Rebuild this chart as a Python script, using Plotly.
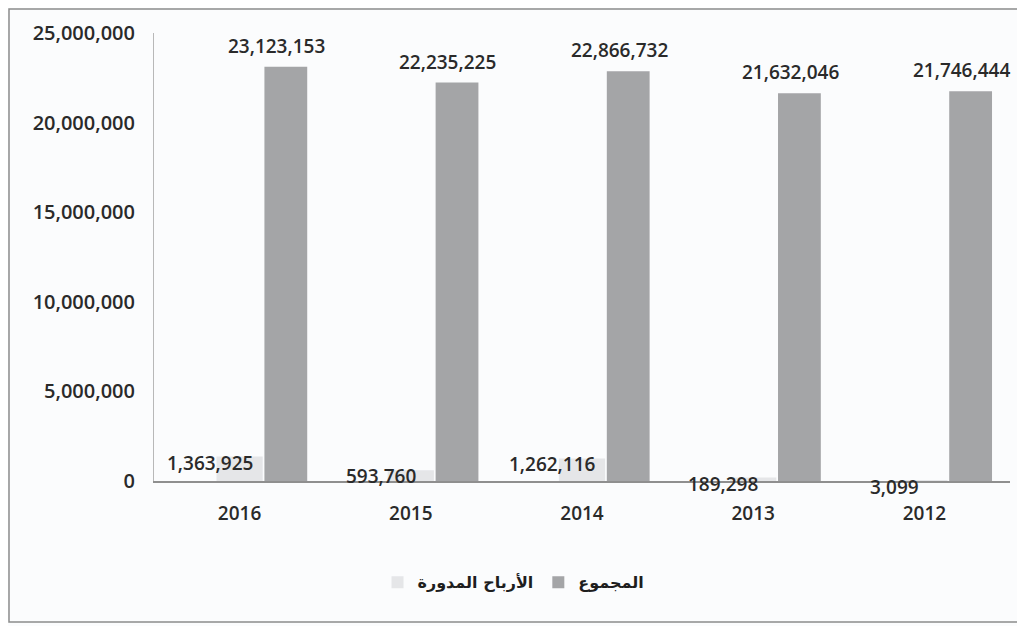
import plotly.graph_objects as go

years = ["2016", "2015", "2014", "2013", "2012"]
retained = [1363925, 593760, 1262116, 189298, 3099]
total = [23123153, 22235225, 22866732, 21632046, 21746444]
series_names = ["الأرباح المدورة", "المجموع"]
y_ticks = [0, 5000000, 10000000, 15000000, 20000000, 25000000]

pos = list(range(len(years)))
num_font = dict(family="Open Sans", size=19, color="#2a2a2a", weight=600)
tick_font = dict(family="Open Sans", size=19, color="#2a2a2a", weight=600)

fig = go.Figure()
fig.add_trace(go.Bar(x=pos, y=retained, name=series_names[0],
                     marker=dict(color="#e5e6e8", line=dict(width=0)),
                     offset=-0.135, width=0.27))
fig.add_trace(go.Bar(x=pos, y=total, name=series_names[1],
                     marker=dict(color="#a4a5a7", line=dict(width=0)),
                     offset=0.145, width=0.25))

for p, v in zip(pos, retained):
    fig.add_annotation(x=p, y=v, text=f"{v:,}", showarrow=False,
                       xshift=-30, yshift=-6, font=num_font)
for p, v in zip(pos, total):
    fig.add_annotation(x=p, y=v, text=f"{v:,}", showarrow=False,
                       xshift=37, yshift=21, font=num_font)

fig.add_shape(type="rect", xref="paper", yref="paper",
              x0=-0.1694, x1=1.0117, y0=-0.3147, y1=1.0536,
              line=dict(color="#8c8c8c", width=1.5))

fig.update_layout(
    width=1017, height=618,
    margin=dict(l=146, r=15, t=25, b=145),
    paper_bgcolor="#fbfcfd", plot_bgcolor="#fbfcfd",
    barmode="overlay", showlegend=True,
    legend=dict(orientation="h", x=0.42, xanchor="center", y=-0.226, yanchor="middle",
                font=dict(family="DejaVu Sans", size=16, color="#1e1e1e", weight="bold"),
                itemsizing="constant", bgcolor="rgba(0,0,0,0)"),
    xaxis=dict(range=[-0.5, len(years) - 0.5], tickvals=pos, ticktext=years,
               showline=True, linecolor="#8f8f8f", linewidth=1.5,
               ticks="", ticklabelstandoff=14, tickfont=tick_font,
               showgrid=False, zeroline=False),
    yaxis=dict(range=[0, 25000000], tickvals=y_ticks,
               ticktext=[f"{t:,}" for t in y_ticks], showgrid=False,
               showline=True, linecolor="#b8b8b8", linewidth=1,
               ticks="", ticklabelstandoff=14, tickfont=dict(tick_font, size=20),
               zeroline=False),
)

fig.write_html("out.html")
